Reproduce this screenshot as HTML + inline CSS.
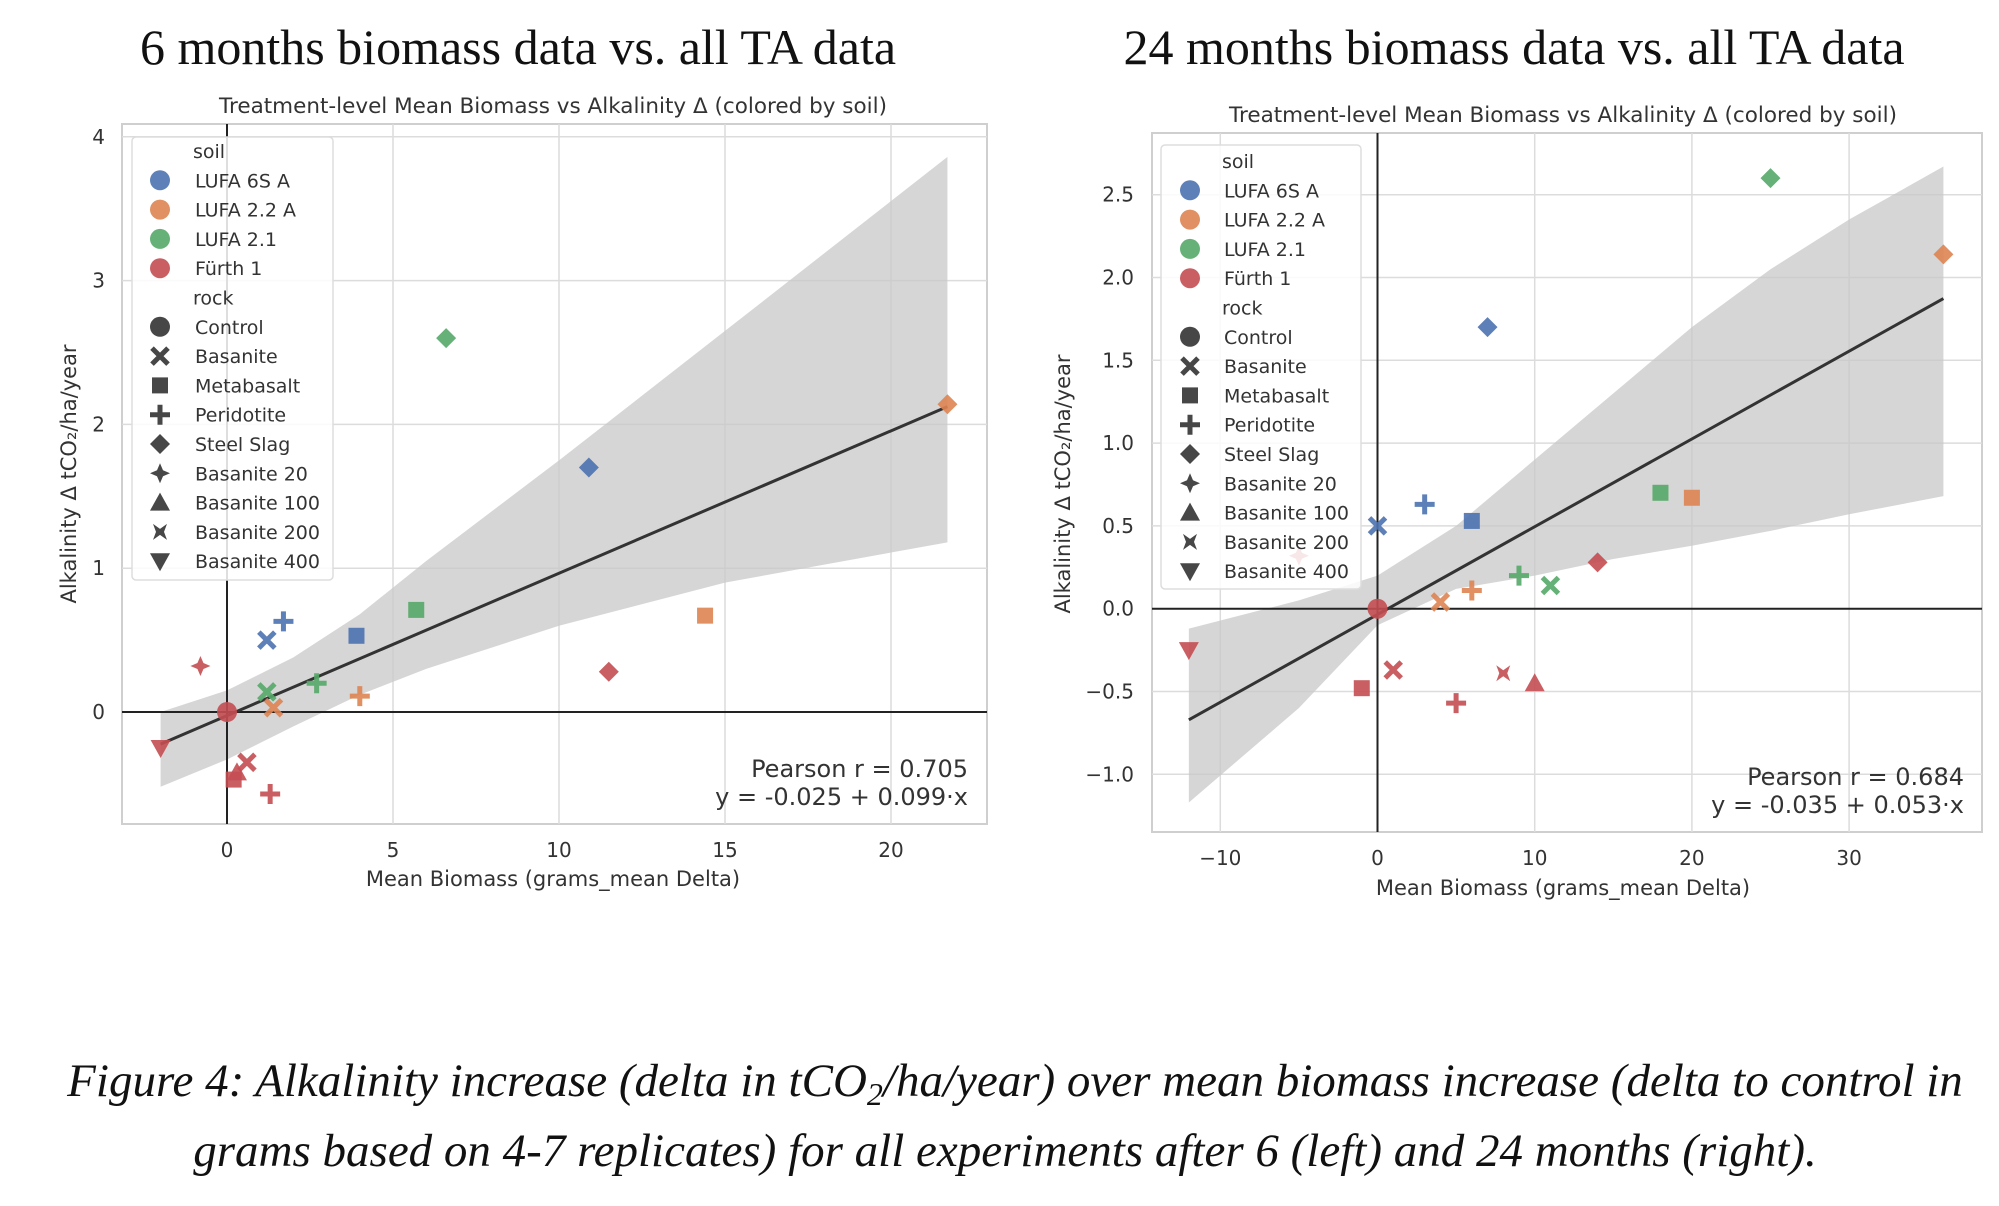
<!DOCTYPE html>
<html><head><meta charset="utf-8"><style>
html,body{margin:0;padding:0;background:#fff}
svg{display:block}
text{font-family:"DejaVu Sans","Liberation Sans",sans-serif;fill:#333}
.serif{font-family:"Liberation Serif","DejaVu Serif",serif;fill:#111}
</style></head><body>
<svg id="fig" width="1999" height="1206" viewBox="0 0 1999 1206" xmlns="http://www.w3.org/2000/svg">
<text class="serif" x="518" y="64" font-size="50" text-anchor="middle">6 months biomass data vs. all TA data</text>
<text class="serif" x="1514" y="64" font-size="50" text-anchor="middle">24 months biomass data vs. all TA data</text>
<text class="serif" x="1015" y="1096" font-size="47" font-style="italic" text-anchor="middle">Figure 4: Alkalinity increase (delta in tCO<tspan font-size="32" dy="9">2</tspan><tspan dy="-9">/ha/year) over mean biomass increase (delta to control in</tspan></text>
<text class="serif" x="1005" y="1166" font-size="47" font-style="italic" text-anchor="middle">grams based on 4-7 replicates) for all experiments after 6 (left) and 24 months (right).</text>
<g id="left"></g><g id="right"></g>
</svg>
<script>
// ---- Left (6 months) data ----
const L_soil = ["red","blue","green","orange","red","blue","green","orange","red","blue","green","orange","blue","green","orange","red","red","red","red","red"];
const L_rock = ["Control","Steel Slag","Steel Slag","Steel Slag","Steel Slag","Basanite","Basanite","Basanite","Basanite","Metabasalt","Metabasalt","Metabasalt","Peridotite","Peridotite","Peridotite","Peridotite","Basanite 20","Basanite 400","Basanite 100","Metabasalt"];
const L_x = [0,10.9,6.6,21.7,11.5,1.2,1.2,1.4,0.6,3.9,5.7,14.4,1.7,2.7,4.0,1.3,-0.8,-2.0,0.3,0.2];
const L_y = [0,1.7,2.6,2.14,0.28,0.5,0.14,0.03,-0.35,0.53,0.71,0.67,0.63,0.2,0.11,-0.57,0.32,-0.25,-0.42,-0.47];
const L_bandX = [-2,0,2,4,6,10,15,21.7];
const L_bandUp = [0.0,0.15,0.38,0.68,1.05,1.75,2.65,3.86];
const L_bandLo = [-0.52,-0.33,-0.1,0.12,0.3,0.6,0.9,1.18];
const L_xticks = [0,5,10,15,20];
const L_yticks = [0,1,2,3,4];
const L_fit = [-0.025,0.099];
// ---- Right (24 months) data ----
const R_soil = ["red","blue","green","orange","red","blue","green","orange","red","blue","green","orange","red","blue","green","orange","red","red","red","red","red"];
const R_rock = ["Control","Steel Slag","Steel Slag","Steel Slag","Steel Slag","Basanite","Basanite","Basanite","Basanite","Metabasalt","Metabasalt","Metabasalt","Metabasalt","Peridotite","Peridotite","Peridotite","Peridotite","Basanite 20","Basanite 400","Basanite 100","Basanite 200"];
const R_x = [0,7,25,36,14,0,11,4,1,6,18,20,-1,3,9,6,5,-5,-12,10,8];
const R_y = [0,1.7,2.6,2.14,0.28,0.5,0.14,0.04,-0.37,0.53,0.7,0.67,-0.48,0.63,0.2,0.11,-0.57,0.32,-0.25,-0.45,-0.39];
const R_bandX = [-12,-5,0,5,10,15,20,25,30,36];
const R_bandUp = [-0.12,0.05,0.2,0.5,0.9,1.3,1.7,2.05,2.35,2.67];
const R_bandLo = [-1.17,-0.6,-0.1,0.12,0.2,0.3,0.38,0.47,0.57,0.68];
const R_xticks = [-10,0,10,20,30];
const R_yticks = [-1.0,-0.5,0.0,0.5,1.0,1.5,2.0,2.5];
const R_fit = [-0.035,0.053];

const COL = {blue:"#4c72b0",orange:"#dd8452",green:"#55a868",red:"#c44e52"};
const NS = "http://www.w3.org/2000/svg";
function mk(parent, tag, attrs, txt){const e=document.createElementNS(NS,tag);for(const k in attrs)e.setAttribute(k,attrs[k]);if(txt!==undefined)e.textContent=txt;parent.appendChild(e);return e;}

function marker(g, shape, cx, cy, color){
  let e;
  if(shape==="Control"){e=mk(g,"circle",{cx:cx,cy:cy,r:10});}
  else if(shape==="Metabasalt"){e=mk(g,"rect",{x:cx-8,y:cy-8,width:16,height:16});}
  else if(shape==="Steel Slag"){e=mk(g,"polygon",{points:`${cx},${cy-10} ${cx+10},${cy} ${cx},${cy+10} ${cx-10},${cy}`});}
  else if(shape==="Basanite"){e=mk(g,"path",{d:`M${cx-8},${cy-8}L${cx+8},${cy+8}M${cx+8},${cy-8}L${cx-8},${cy+8}`,stroke:color,"stroke-width":5,fill:"none"});}
  else if(shape==="Peridotite"){e=mk(g,"path",{d:`M${cx-10},${cy}L${cx+10},${cy}M${cx},${cy-10}L${cx},${cy+10}`,stroke:color,"stroke-width":5,fill:"none"});}
  else if(shape==="Basanite 20"){e=mk(g,"polygon",{points:`${cx},${cy-10} ${cx+3},${cy-3} ${cx+10},${cy} ${cx+3},${cy+3} ${cx},${cy+10} ${cx-3},${cy+3} ${cx-10},${cy} ${cx-3},${cy-3}`});}
  else if(shape==="Basanite 100"){e=mk(g,"polygon",{points:`${cx},${cy-10} ${cx+10},${cy+8} ${cx-10},${cy+8}`});}
  else if(shape==="Basanite 400"){e=mk(g,"polygon",{points:`${cx-10},${cy-8} ${cx+10},${cy-8} ${cx},${cy+10}`});}
  else {e=mk(g,"polygon",{points:`${cx-7},${cy-8} ${cx},${cy-3} ${cx+7},${cy-8} ${cx+4},${cy} ${cx+7},${cy+8} ${cx},${cy+3} ${cx-7},${cy+8} ${cx-4},${cy}`});}
  if(shape!=="Basanite"&&shape!=="Peridotite"){e.setAttribute("fill",color);}
  e.setAttribute("opacity","0.9");
  return e;
}

function chart(gid, cfg){
  const g=document.getElementById(gid);
  const X=v=>cfg.x0px+(v)*cfg.xs, Y=v=>cfg.y0px-(v)*cfg.ys;
  const b=cfg.box;
  const frame=mk(g,"rect",{x:b[0],y:b[1],width:b[2]-b[0],height:b[3]-b[1],fill:"#fff",stroke:"#cfcfcf","stroke-width":2});
  
  
  cfg.xticks.forEach(t=>{
    const gl=mk(g,"line",{x1:X(t),x2:X(t),y1:b[1],y2:b[3],stroke:"#dcdcdc","stroke-width":1.5});
    
    
    const tl=mk(g,"text",{x:X(t),y:cfg.xtickY,"font-size":20,"text-anchor":"middle"},t<0?"\u2212"+Math.abs(t):String(t));
    
    
  });
  cfg.yticks.forEach(t=>{
    const gl=mk(g,"line",{x1:b[0],x2:b[2],y1:Y(t),y2:Y(t),stroke:"#dcdcdc","stroke-width":1.5});
    
    
    const s=cfg.ydec?(t<0?"\u2212"+Math.abs(t).toFixed(1):t.toFixed(1)):String(t);
    const tl=mk(g,"text",{x:cfg.ytickX,y:Y(t)+7,"font-size":20,"text-anchor":"end"},s);
    
    
  });
  let pts=cfg.bandX.map((x,i)=>X(x)+","+Y(cfg.bandUp[i]));
  pts=pts.concat(cfg.bandX.map((x,i)=>X(x)+","+Y(cfg.bandLo[i])).reverse());
  const band=mk(g,"polygon",{points:pts.join(" "),fill:"#c8c8c8","fill-opacity":0.75});
  
  
  const zx=mk(g,"line",{x1:X(0),x2:X(0),y1:b[1],y2:b[3],stroke:"#222","stroke-width":2});
  
  
  const zy=mk(g,"line",{x1:b[0],x2:b[2],y1:Y(0),y2:Y(0),stroke:"#222","stroke-width":2});
  
  
  const xa=cfg.bandX[0], xb=cfg.bandX[cfg.bandX.length-1];
  const fl=mk(g,"line",{x1:X(xa),y1:Y(cfg.fit[0]+cfg.fit[1]*xa),x2:X(xb),y2:Y(cfg.fit[0]+cfg.fit[1]*xb),stroke:"#333","stroke-width":3});
  
  
  cfg.px.forEach((x,i)=>{
    const m=marker(g,cfg.rock[i],X(x),Y(cfg.py[i]),COL[cfg.soil[i]]);
    
    
  });
  const lg=mk(g,"g",{});
  
  
  const lb=cfg.leg;
  mk(lg,"rect",{x:lb[0],y:lb[1],width:lb[2],height:lb[3],rx:4,fill:"#fff","fill-opacity":0.85,stroke:"#ddd","stroke-width":1.5});
  const items=[["h","soil"],["c","LUFA 6S A","blue"],["c","LUFA 2.2 A","orange"],["c","LUFA 2.1","green"],["c","Fürth 1","red"],["h","rock"],
    ["m","Control"],["m","Basanite"],["m","Metabasalt"],["m","Peridotite"],["m","Steel Slag"],["m","Basanite 20"],["m","Basanite 100"],["m","Basanite 200"],["m","Basanite 400"]];
  items.forEach((it,i)=>{
    const yy=cfg.legY+i*29.3;
    if(it[0]==="c"){mk(lg,"circle",{cx:cfg.legMX,cy:yy,r:10,fill:COL[it[2]],opacity:0.9});}
    if(it[0]==="m"){marker(lg,it[1],cfg.legMX,yy,"#333");}
    const t=mk(lg,"text",{x:it[0]==="h"?cfg.legTX-2:cfg.legTX,y:yy+7,"font-size":19},it[1]);
    
    
  });
  const st=mk(g,"text",{x:cfg.titleX,y:cfg.titleY,"font-size":21.5,"text-anchor":"middle"},"Treatment-level Mean Biomass vs Alkalinity \u0394 (colored by soil)");
  
  
  const xl=mk(g,"text",{x:cfg.xlab[0],y:cfg.xlab[1],"font-size":21,"text-anchor":"middle"},"Mean Biomass (grams_mean Delta)");
  
  
  const yl=mk(g,"text",{x:0,y:0,"font-size":21,"text-anchor":"middle",transform:`translate(${cfg.ylab[0]},${cfg.ylab[1]}) rotate(-90)`},"Alkalinity \u0394 tCO\u2082/ha/year");
  
  
  const p1=mk(g,"text",{x:cfg.pear[0],y:cfg.pear[1],"font-size":24,"text-anchor":"end"},"Pearson r = "+cfg.r);
  
  
  const p2=mk(g,"text",{x:cfg.pear[0],y:cfg.pear[1]+28,"font-size":24,"text-anchor":"end"},`y = ${cfg.fit[0].toFixed(3)} + ${cfg.fit[1].toFixed(3)}\u00b7x`);
  
  
}
chart("left",{box:[122,124,987,824],x0px:227,xs:33.2,y0px:712,ys:143.8,xticks:L_xticks,yticks:L_yticks,ydec:false,
  xtickY:857,ytickX:105,bandX:L_bandX,bandUp:L_bandUp,bandLo:L_bandLo,fit:L_fit,px:L_x,py:L_y,soil:L_soil,rock:L_rock,
  leg:[132,137,201,443],legY:151,legMX:160,legTX:195,titleX:553,titleY:113,xlab:[553,886],ylab:[76,474],pear:[968,777],r:"0.705"});
chart("right",{box:[1152,133,1982,832],x0px:1377.5,xs:15.72,y0px:608.7,ys:165.6,xticks:R_xticks,yticks:R_yticks,ydec:true,
  xtickY:865,ytickX:1134,bandX:R_bandX,bandUp:R_bandUp,bandLo:R_bandLo,fit:R_fit,px:R_x,py:R_y,soil:R_soil,rock:R_rock,
  leg:[1161,145,200,444],legY:161,legMX:1190,legTX:1224,titleX:1563,titleY:122,xlab:[1563,895],ylab:[1070,484],pear:[1964,785],r:"0.684"});
</script>
</body></html>
